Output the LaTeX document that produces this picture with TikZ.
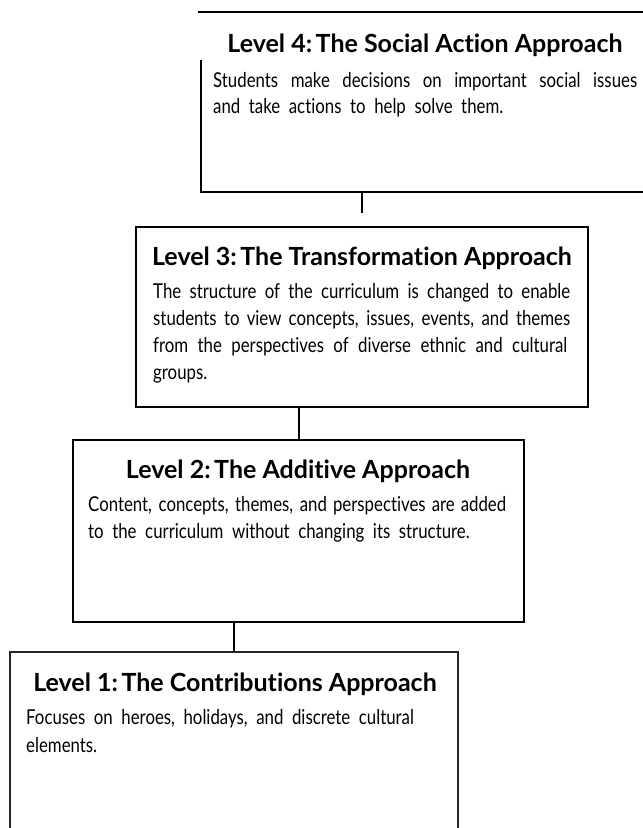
\documentclass[tikz,border=0pt]{standalone}
\usepackage{fontspec}
\newfontfamily\bodyfont[FakeStretch=0.82,WordSpace=2,Ligatures=NoCommon]{Lato}
\newfontfamily\headfont[Ligatures=NoCommon]{Lato}
\newcommand{\colsp}{\hspace{0.14em}}
\begin{document}
\begin{tikzpicture}[x=1pt,y=-1pt,
  boxarea/.style={rectangle,inner sep=0pt,outer sep=0pt,anchor=north west},
  frame/.style={line width=2pt,draw=black},
  thinframe/.style={line width=1.5pt,draw=black!85},
  conn/.style={line width=2pt,draw=black},
  headtext/.style={inner sep=0pt,anchor=base,font=\headfont\bfseries\fontsize{25}{30}\selectfont},
  bodytext/.style={inner sep=0pt,anchor=base west,font=\bodyfont\fontsize{20.5}{24}\selectfont}]
\useasboundingbox (0,0) rectangle (643,828);
\fill[white] (0,0) rectangle (643,828);

% box areas
\node[boxarea,minimum width=442pt,minimum height=180pt] (b4) at (201,12) {};
\node[boxarea,minimum width=452pt,minimum height=180pt] (b3) at (136,227) {};
\node[boxarea,minimum width=451pt,minimum height=182pt] (b2) at (73,440) {};
\node[boxarea,minimum width=448pt,minimum height=176pt] (b1) at (10,652) {};

% frames
\draw[frame] ([xshift=-3pt]b4.north west) -- (b4.north east);
\draw[frame] ([yshift=-48pt]b4.north west) -- (b4.south west) -- (b4.south east);
\draw[frame] (b3.north west) rectangle (b3.south east);
\draw[frame] (b2.north west) rectangle (b2.south east);
\draw[thinframe] (b1.south west) -- (b1.north west) -- (b1.north east) -- (b1.south east);

% connectors
\coordinate (c43) at ([yshift=14pt]b3.north);
\draw[conn] (b3.north |- b4.south) -- (c43);
\draw[conn] (b2.north |- b3.south) -- (b2.north);
\draw[conn] (b1.north |- b2.south) -- (b1.north);

% Level 4
\node[headtext] (h4) at (425,52) {Level 4:\colsp The Social Action Approach};
\node[bodytext] (t4a) at (213,87) {\makebox[424pt][s]{Students make decisions on important social issues}};
\node[bodytext] (t4b) at (213,113) {and take actions to help solve them.};

% Level 3
\node[headtext] (h3) at (362,265) {Level 3:\colsp The Transformation Approach};
\node[bodytext] (t3a) at (153,298) {\makebox[417pt][s]{The structure of the curriculum is changed to enable}};
\node[bodytext] (t3b) at (153,325) {\makebox[417pt][s]{students to view concepts, issues, events, and themes}};
\node[bodytext] (t3c) at (153,352) {\makebox[414pt][s]{from the perspectives of diverse ethnic and cultural}};
\node[bodytext] (t3d) at (153,379) {groups.};

% Level 2
\node[headtext] (h2) at (298,478) {Level 2:\colsp The Additive Approach};
\node[bodytext] (t2a) at (88,511) {\makebox[418pt][s]{Content, concepts, themes, and perspectives are added}};
\node[bodytext] (t2b) at (88,538) {to the curriculum without changing its structure.};

% Level 1
\node[headtext] (h1) at (235,691) {Level 1:\colsp The Contributions Approach};
\node[bodytext] (t1a) at (26,724) {Focuses on heroes, holidays, and discrete cultural};
\node[bodytext] (t1b) at (26,752) {elements.};
\end{tikzpicture}
\end{document}
